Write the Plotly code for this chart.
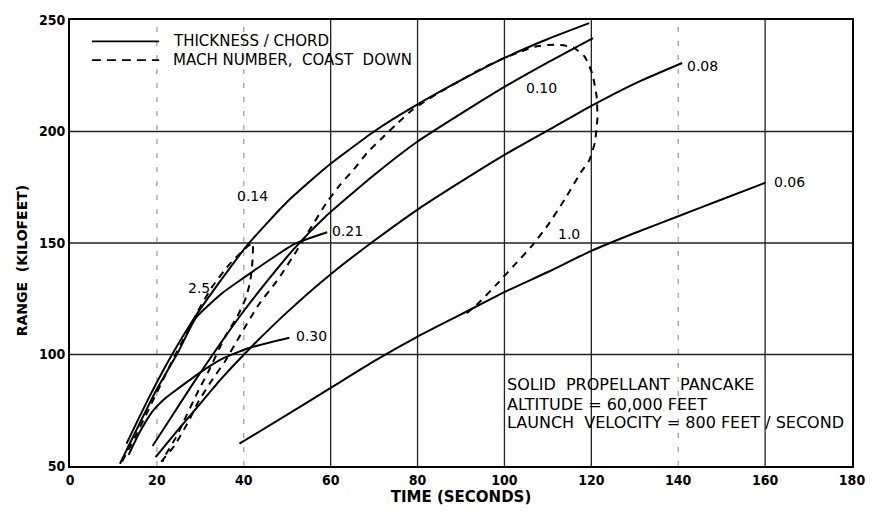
import plotly.graph_objects as go

# ---------------- data ----------------
# Solid curves: thickness / chord
tc_014_t = [13, 18, 23.2, 29, 35, 41, 50, 59, 70, 79, 90, 100, 110, 119.5]
tc_014_r = [60, 80, 99, 117.5, 134, 149.5, 168.5, 184, 200, 211, 223, 233, 241.5, 248.6]

tc_021_t = [11.5, 15, 20, 25, 29, 35, 40.2, 46, 51.6, 59.2]
tc_021_r = [51, 65, 84.5, 101.5, 116.5, 127.5, 134.7, 142.5, 149.5, 154.8]

tc_030_t = [13.5, 16, 19, 22, 25.4, 30, 35, 41, 50.5]
tc_030_r = [55, 65, 74.5, 80.5, 85.5, 92, 98, 102.8, 107.5]

tc_010_t = [19, 23, 28.5, 35, 40, 45, 51.6, 58.9, 70, 80, 90, 100, 110, 120.4]
tc_010_r = [59, 71, 87.5, 106, 119.5, 132, 147.5, 162, 180.5, 195.5, 208, 220, 231, 241.9]

tc_008_t = [19.7, 25, 30, 35, 41.8, 50, 60, 70, 80, 90, 100, 110, 120, 130, 140.9]
tc_008_r = [54, 66.5, 78, 89.5, 103.5, 119, 136, 151, 165, 177.5, 189.5, 200.5, 211.5, 221.5, 230.7]

tc_006_t = [39, 50, 60, 70, 80, 90, 100, 110, 120, 130, 140, 150, 160]
tc_006_r = [60, 73, 85, 97, 108, 118, 128, 137, 146.5, 154.5, 162, 169.5, 177]

# Dashed curves: Mach number, coast down
m25_t = [12, 15, 18, 21, 24, 27, 29.6, 32.6, 36.5, 39.5, 42, 42, 41.5, 40.5, 38.5,
         35.7, 31.9, 29.6, 25.8, 24.3, 22, 21.3]
m25_r = [52, 63, 75, 87, 99, 110, 120, 130, 140, 146, 150, 142, 133, 125.5, 117,
         108, 92.5, 84, 68.5, 62.5, 55, 52]

m10_t = [21, 24, 27, 29.6, 32.5, 35.7, 39, 43.3, 48, 52, 55.5, 59.2, 62.3, 65.3, 68.4,
         71.8, 75, 79, 85, 90, 95, 100, 104, 107, 110, 113, 116, 118.5, 120.2, 121.2,
         121.4, 120.8, 119.5, 117.7, 114, 110, 106, 102, 98, 94, 90.4]
m10_r = [52, 59, 69, 79, 88, 97, 108, 122, 134, 146, 157, 168.5, 176.4, 183, 190.5,
         197, 203, 210, 217.5, 223, 228.5, 233, 236, 238, 238.8, 238.8, 237.5, 233.5, 226, 216,
         206, 195, 187, 182, 170, 158, 148, 139.5, 131, 123, 117]

solid_series = [
    ("0.14", tc_014_t, tc_014_r),
    ("0.21", tc_021_t, tc_021_r),
    ("0.30", tc_030_t, tc_030_r),
    ("0.10", tc_010_t, tc_010_r),
    ("0.08", tc_008_t, tc_008_r),
    ("0.06", tc_006_t, tc_006_r),
]
dashed_series = [("2.5", m25_t, m25_r), ("1.0", m10_t, m10_r)]

# curve label positions (time, range)
label_text = ["0.14", "0.10", "0.08", "0.06", "0.21", "0.30", "2.5", "1.0"]
label_t = [42, 108.5, 141.5, 161.5, 59.8, 51.5, 29.6, 111.8]
label_r = [171, 219.5, 229.5, 177.5, 155.5, 108.2, 129.7, 154]
label_anchor = ["center", "center", "left", "left", "left", "left", "center", "left"]

note_lines = ["SOLID  PROPELLANT  PANCAKE", "ALTITUDE = 60,000 FEET",
              "LAUNCH  VELOCITY = 800 FEET / SECOND"]

x_ticks = [0, 20, 40, 60, 80, 100, 120, 140, 160, 180]
y_ticks = [50, 100, 150, 200, 250]
grid_x_solid = [60, 80, 100, 120, 160]
grid_x_dotted = [20, 40, 140]
grid_y_solid = [100, 150, 200]

FONT = "DejaVu Sans, sans-serif"
FONT_C = "DejaVu Sans Condensed, DejaVu Sans, sans-serif"

fig = go.Figure()

for name, t, r in solid_series:
    fig.add_trace(go.Scatter(x=t, y=r, mode="lines", name=name, showlegend=False,
                             line=dict(color="black", width=2, shape="spline", smoothing=0.5)))
for name, t, r in dashed_series:
    fig.add_trace(go.Scatter(x=t, y=r, mode="lines", name="M " + name, showlegend=False,
                             line=dict(color="black", width=2, dash="7px,6px",
                                       shape="spline", smoothing=0.5)))

# grid lines
for gx in grid_x_solid:
    fig.add_shape(type="line", x0=gx, x1=gx, y0=0, y1=1, xref="x", yref="paper",
                  line=dict(color="#222", width=1.3), layer="below")
for gx in grid_x_dotted:
    fig.add_shape(type="line", x0=gx, x1=gx, y0=0, y1=1, xref="x", yref="paper",
                  line=dict(color="#999", width=1.2, dash="5px,9px"), layer="below")
for gy in grid_y_solid:
    fig.add_shape(type="line", x0=0, x1=1, y0=gy, y1=gy, xref="paper", yref="y",
                  line=dict(color="#222", width=1.3), layer="below")

# curve labels
for txt, t, r, a in zip(label_text, label_t, label_r, label_anchor):
    fig.add_annotation(x=t, y=r, text=txt, showarrow=False, xanchor=a,
                       font=dict(family=FONT, size=14, color="black"))

# legend (drawn)
fig.add_shape(type="line", xref="paper", yref="paper", x0=0.028, x1=0.114, y0=0.952, y1=0.952,
              line=dict(color="black", width=1.8))
fig.add_shape(type="line", xref="paper", yref="paper", x0=0.028, x1=0.114, y0=0.910, y1=0.910,
              line=dict(color="black", width=1.8, dash="9px,6px"))
fig.add_annotation(xref="paper", yref="paper", x=0.129, y=0.952, text="THICKNESS / CHORD",
                   showarrow=False, xanchor="left", yanchor="middle",
                   font=dict(family=FONT, size=15, color="black"))
fig.add_annotation(xref="paper", yref="paper", x=0.129, y=0.910, text="MACH NUMBER,  COAST  DOWN",
                   showarrow=False, xanchor="left", yanchor="middle",
                   font=dict(family=FONT, size=15, color="black"))

# info block
for line_text, py in zip(note_lines, [0.183, 0.139, 0.098]):
    fig.add_annotation(xref="paper", yref="paper", x=0.556, y=py, xanchor="left",
                       yanchor="middle", showarrow=False, text=line_text,
                       font=dict(family=FONT, size=16, color="black"))

# y axis title (placed as in the reference)
fig.add_annotation(xref="paper", yref="paper", x=-0.062, y=0.46, textangle=-90,
                   text="<b>RANGE  (KILOFEET)</b>", showarrow=False,
                   xanchor="center", yanchor="middle",
                   font=dict(family=FONT, size=14, color="black"))

fig.update_layout(
    width=877, height=513,
    margin=dict(l=70, r=17, t=18, b=47),
    paper_bgcolor="white", plot_bgcolor="white",
    showlegend=False,
    font=dict(family=FONT, size=14, color="black"),
    xaxis=dict(range=[0, 180], tickvals=x_ticks, ticktext=[str(v) for v in x_ticks],
               showgrid=False, zeroline=False, showline=True, mirror=True,
               linecolor="black", linewidth=2, ticks="", ticklen=0,
               tickfont=dict(family=FONT_C, size=14, color="black", weight="bold"),
               title=dict(text="<b>TIME (SECONDS)</b>", standoff=2,
                          font=dict(family=FONT, size=15, color="black"))),
    yaxis=dict(range=[50, 250], tickvals=y_ticks, ticktext=[str(v) for v in y_ticks],
               showgrid=False, zeroline=False, showline=True, mirror=True,
               linecolor="black", linewidth=2, ticks="", ticklen=0,
               tickfont=dict(family=FONT_C, size=14, color="black", weight="bold")),
)

fig.write_html("out.html", config={"displayModeBar": False},
               post_script="document.body.style.margin='0px';")
